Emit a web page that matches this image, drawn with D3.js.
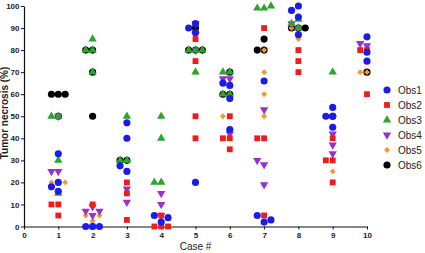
<!DOCTYPE html>
<html>
<head>
<meta charset="utf-8">
<script src="https://cdn.jsdelivr.net/npm/d3@7"></script>
<style>
  body { margin: 0; background: #fff; }
  svg { display: block; font-family: "Liberation Sans", Arial, sans-serif; }
</style>
</head>
<body>
<div id="chart"></div>
<script>
// values per case (1..10), one list per observer
const cases = [1, 2, 3, 4, 5, 6, 7, 8, 9, 10];
const xTicks = [0, 1, 2, 3, 4, 5, 6, 7, 8, 9, 10];
const yTicks = [0, 10, 20, 30, 40, 50, 60, 70, 80, 90, 100];
const seriesNames = ["Obs1", "Obs2", "Obs3", "Obs4", "Obs5", "Obs6"];

const obs1 = [[33, 20, 16, 18], [0, 0, 0], [47, 40, 25, 27.5], [2, 5, 4], [92, 88, 90, 20],
              [64, 58, 44, 65], [66, 2, 5, 3], [100, 95, 87, 98], [54, 50, 45, 50], [86, 79, 75]];
const obs2 = [[10, 5, 10], [10, 0], [20, 15, 3], [5, 0, 0, 0], [85, 75, 50, 40],
              [50, 40, 35, 40], [90, 40, 5, 40], [80, 75, 70], [40, 30, 20, 30], [80, 60, 80]];
const obs3 = [[50, 30, 15, 50], [85, 80, 70, 80], [50, 30, 30], [50, 40, 20, 20], [80, 70, 80, 80],
              [70, 60, 70, 60], [99, 99, 100], [90, 94, 92], [70], []];
const obs4 = [[50, 25, 25], [9, 5, 7, 7], [17, 11], [15, 10, 5], [92, 87, 80],
              [67, 42, 67], [53, 28, 19, 30], [90, 92], [42, 37, 33], [82, 83]];
const obs5 = [[20, 20, 20], [2.5, 5, 5], [30], [], [70],
              [50, 50], [80, 70, 60, 50], [85, 90, 90], [25, 20], [70, 70]];
const obs6 = [[60, 60, 60, 50], [80, 80, 70, 50], [30, 30], [], [90, 80, 80, 80],
              [70, 60, 60], [85, 80, 80], [90, 90, 90], [50], [70]];

const allObs = [obs1, obs2, obs3, obs4, obs5, obs6];

const colors = ["#1c1ce8", "#ee1c1c", "#2ba52b", "#9b2fd2", "#f5972a", "#000000"];
const shapes = [d3.symbolCircle, d3.symbolSquare, d3.symbolTriangle, d3.symbolTriangle, d3.symbolDiamond2, d3.symbolCircle];
const sizes = [40, 34, 30, 30, 22, 40];
const rotate = [0, 0, 0, 180, 0, 0];

const width = 425;
const height = 253;

const svg = d3.select("#chart")
    .append("svg")
    .attr("width", width)
    .attr("height", height);

const x = d3.scaleLinear().domain([0, 10]).range([24, 367]);
const y = d3.scaleLinear().domain([0, 100]).range([226.5, 6]);

// spread equal values sideways inside each observer, like a column scatter
const slots = [0, -1, 1, -2, 2];
const step = 0.2;
const gap = 4;

function spread(values) {
    const placed = [];
    return values.map(v => {
        const slot = slots.find(s => !placed.some(p => p.s === s && Math.abs(p.v - v) < gap));
        placed.push({ v, s: slot });
        return slot;
    });
}

const points = [];
allObs.forEach((obs, si) => {
    obs.forEach((vals, ci) => {
        const sl = spread(vals);
        vals.forEach((v, k) => points.push({ series: si, c: cases[ci], v, slot: sl[k] }));
    });
});

// axes
const yAxis = svg.append("g")
    .attr("transform", `translate(${x(0)},0)`)
    .call(d3.axisLeft(y).tickValues(yTicks).tickSize(3).tickSizeOuter(0).tickPadding(1.5));

const xAxis = svg.append("g")
    .attr("transform", `translate(0,${y(0)})`)
    .call(d3.axisBottom(x).tickValues(xTicks).tickSize(3).tickSizeOuter(0).tickPadding(3));

[yAxis, xAxis].forEach(a => {
    a.select(".domain").attr("stroke", "#111").attr("stroke-width", 1.2);
    a.selectAll(".tick line").attr("stroke", "#111");
    a.selectAll("text")
        .attr("fill", "#222")
        .style("font-size", "8px")
        .style("font-weight", "bold")
        .style("font-family", "'Liberation Sans', Arial, sans-serif");
});

svg.append("text")
    .attr("x", (x(0) + x(10)) / 2)
    .attr("y", 249.5)
    .attr("text-anchor", "middle")
    .attr("fill", "#222")
    .style("font-size", "10px")
    .text("Case #");

svg.append("text")
    .attr("transform", `translate(8,113) rotate(-90)`)
    .attr("text-anchor", "middle")
    .attr("fill", "#222")
    .style("font-size", "10px")
    .style("font-weight", "bold")
    .text("Tumor necrosis (%)");

// marks: last observer underneath, Obs1 on top
const order = [5, 4, 3, 2, 1, 0];
order.forEach(si => {
    const sym = d3.symbol().type(shapes[si]).size(sizes[si]);
    svg.append("g")
        .selectAll("path")
        .data(points.filter(p => p.series === si))
        .join("path")
        .attr("d", sym)
        .attr("transform", d => `translate(${x(d.c + d.slot * step)},${y(d.v)}) rotate(${rotate[si]})`)
        .attr("fill", colors[si]);
});

// legend
const legend = svg.append("g");
seriesNames.forEach((name, i) => {
    const ly = 90 + i * 15;
    legend.append("path")
        .attr("d", d3.symbol().type(shapes[i]).size(sizes[i])())
        .attr("transform", `translate(387,${ly}) rotate(${rotate[i]})`)
        .attr("fill", colors[i]);
    legend.append("text")
        .attr("x", 398)
        .attr("y", ly + 3.5)
        .attr("fill", "#222")
        .style("font-size", "10px")
        .text(name);
});
</script>
</body>
</html>
